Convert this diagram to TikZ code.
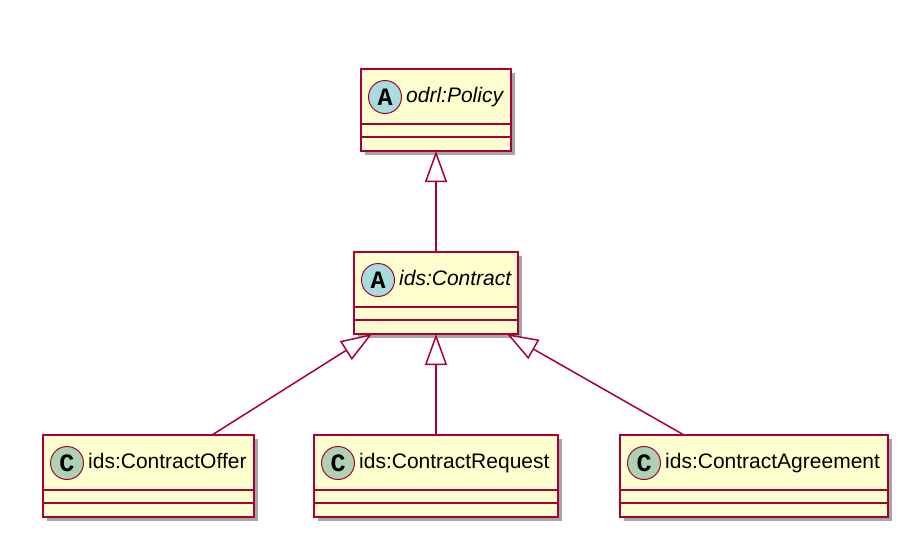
\documentclass[tikz,border=0pt]{standalone}
\usepackage{fontspec}
\setmainfont{Liberation Sans}
\newfontfamily\spotfont{Liberation Mono}
\usepackage{tikz}
\usetikzlibrary{arrows.meta,positioning,shadows}
\definecolor{umlfill}{HTML}{FEFECE}
\definecolor{umlborder}{HTML}{A80036}
\definecolor{umlspotA}{HTML}{A9DCDF}
\definecolor{umlspotC}{HTML}{ADD1B2}

\tikzset{
  classbox/.style={draw=umlborder,fill=umlfill,line width=1.5pt,anchor=north west,
    inner sep=0pt,outer sep=0pt,minimum height=82pt,
    drop shadow={shadow xshift=4pt,shadow yshift=-4pt,opacity=0.35,fill=black}},
  spot/.style={draw=umlborder,circle,line width=1pt,minimum size=33pt,inner sep=0pt,
    font=\spotfont\bfseries\fontsize{25}{25}\selectfont},
  classname/.style={inner sep=0pt,text height=0.72em,text depth=0pt,yshift=-2pt,
    font=\fontsize{21}{21}\selectfont},
  divider/.style={draw=umlborder,line width=1.5pt},
  extends/.style={draw=umlborder,line width=1.5pt,
    -{Triangle[open,length=31pt,width=22pt,fill=white]}}
}

\begin{document}
\begin{tikzpicture}[x=1pt,y=-1pt]
  \useasboundingbox (0,0) rectangle (924,552);
  % classes
  \node[classbox,minimum width=150pt] (policy) at (361,69) {};
  \node[classbox,minimum width=164pt] (contract) at (354,252) {};
  \node[classbox,minimum width=211pt] (offer) at (43,435) {};
  \node[classbox,minimum width=244pt] (request) at (314,435) {};
  \node[classbox,minimum width=268pt] (agreement) at (620,435) {};
  \foreach \c in {policy,contract,offer,request,agreement}{
    \draw[divider] ([yshift=-55pt]\c.north west) -- ([yshift=-55pt]\c.north east);
    \draw[divider] ([yshift=-68pt]\c.north west) -- ([yshift=-68pt]\c.north east);
  }
  % spots and names
  \node[spot,fill=umlspotA] (policyspot) at ([xshift=24pt,yshift=-28pt]policy.north west) {A};
  \node[classname,right=4pt of policyspot] (policyname) {\itshape odrl:Policy};
  \node[spot,fill=umlspotA] (contractspot) at ([xshift=24pt,yshift=-28pt]contract.north west) {A};
  \node[classname,right=4pt of contractspot] (contractname) {\itshape ids:Contract};
  \node[spot,fill=umlspotC] (offerspot) at ([xshift=24pt,yshift=-28pt]offer.north west) {C};
  \node[classname,right=4pt of offerspot] (offername) {ids:ContractOffer};
  \node[spot,fill=umlspotC] (requestspot) at ([xshift=24pt,yshift=-28pt]request.north west) {C};
  \node[classname,right=4pt of requestspot] (requestname) {ids:ContractRequest};
  \node[spot,fill=umlspotC] (agreementspot) at ([xshift=24pt,yshift=-28pt]agreement.north west) {C};
  \node[classname,right=4pt of agreementspot] (agreementname) {ids:ContractAgreement};
  % generalisations
  \draw[extends] (contract.north) -- (policy.south);
  \draw[extends] ([xshift=63.5pt]offer.north) -- ([xshift=-64pt]contract.south);
  \draw[extends] (request.north) -- (contract.south);
  \draw[extends] ([xshift=-70pt]agreement.north) -- ([xshift=71pt]contract.south);
\end{tikzpicture}
\end{document}
